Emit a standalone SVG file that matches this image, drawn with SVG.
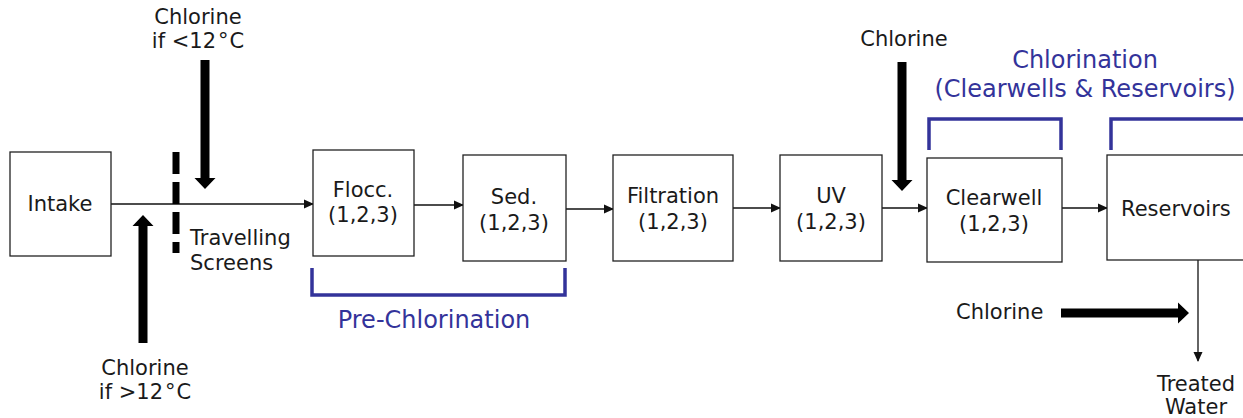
<svg xmlns="http://www.w3.org/2000/svg" width="1243" height="418" viewBox="0 0 1243 418">
<style>
.box{fill:#fff;stroke:#222;stroke-width:1.3}
.t{font-family:"DejaVu Sans",Verdana,sans-serif;font-size:21px;fill:#1a1a1a;text-anchor:middle}
.b{font-family:"DejaVu Sans",Verdana,sans-serif;font-size:24px;fill:#33339a;text-anchor:middle}
.ln{stroke:#111;stroke-width:1.3;fill:none}
.br{stroke:#33339a;stroke-width:3.5;fill:none}
.fat{fill:#000}
</style>
<defs>
<marker id="ah" markerWidth="10" markerHeight="10" refX="9" refY="5" orient="auto" markerUnits="userSpaceOnUse">
<path d="M0,0.5 L10,5 L0,9.5 Z" fill="#111"/>
</marker>
</defs>
<rect width="1243" height="418" fill="#fff"/>
<g id="connectors">
<line class="ln" x1="111" y1="204" x2="313" y2="204" marker-end="url(#ah)"/>
<line class="ln" x1="414" y1="205" x2="463" y2="205" marker-end="url(#ah)"/>
<line class="ln" x1="566" y1="209" x2="613" y2="209" marker-end="url(#ah)"/>
<line class="ln" x1="733" y1="208" x2="780" y2="208" marker-end="url(#ah)"/>
<line class="ln" x1="882" y1="208" x2="927" y2="208" marker-end="url(#ah)"/>
<line class="ln" x1="1062" y1="208" x2="1107" y2="208" marker-end="url(#ah)"/>
<line class="ln" x1="1198" y1="260" x2="1198" y2="361" marker-end="url(#ah)"/>
</g>
<g id="screens">
<line x1="176" y1="152" x2="176" y2="253" stroke="#000" stroke-width="7" stroke-dasharray="22,8"/>
<text class="t" x="190" y="245" style="text-anchor:start">Travelling</text>
<text class="t" x="190" y="270" style="text-anchor:start">Screens</text>
</g>
<g id="chlorine-top">
<text class="t" x="198" y="24">Chlorine</text>
<text class="t" x="198" y="48">if &lt;12<tspan dx="2">°</tspan><tspan dx="1">C</tspan></text>
<path class="fat" d="M200.5,60 h9 v118 h6 l-10.5,11 l-10.5,-11 h6 Z"/>
</g>
<g id="chlorine-bottom">
<path class="fat" d="M138.5,343 h9 v-117 h6 l-10.5,-11 l-10.5,11 h6 Z"/>
<text class="t" x="145" y="375">Chlorine</text>
<text class="t" x="145" y="399">if &gt;12<tspan dx="2">°</tspan><tspan dx="1">C</tspan></text>
</g>
<g id="intake">
<rect class="box" x="10" y="152" width="101" height="104"/>
<text class="t" x="60" y="211">Intake</text>
</g>
<g id="flocc">
<rect class="box" x="313" y="150" width="101" height="106"/>
<text class="t" x="363" y="197">Flocc.</text>
<text class="t" x="363" y="222">(1,2,3)</text>
</g>
<g id="sed">
<rect class="box" x="463" y="155" width="103" height="106"/>
<text class="t" x="514" y="204">Sed.</text>
<text class="t" x="514" y="230">(1,2,3)</text>
</g>
<g id="pre-chlorination">
<path class="br" d="M312,268 V295 H565 V268"/>
<text class="b" x="434" y="328">Pre-Chlorination</text>
</g>
<g id="filtration">
<rect class="box" x="613" y="155" width="120" height="106"/>
<text class="t" x="673" y="203">Filtration</text>
<text class="t" x="673" y="229">(1,2,3)</text>
</g>
<g id="uv">
<rect class="box" x="780" y="155" width="102" height="106"/>
<text class="t" x="831" y="203">UV</text>
<text class="t" x="831" y="229">(1,2,3)</text>
</g>
<g id="chlorine-uv">
<text class="t" x="904" y="46">Chlorine</text>
<path class="fat" d="M897.5,62 h9 v118 h6 l-10.5,11 l-10.5,-11 h6 Z"/>
</g>
<g id="clearwell">
<rect class="box" x="927" y="158" width="135" height="104"/>
<text class="t" x="994" y="205">Clearwell</text>
<text class="t" x="994" y="231">(1,2,3)</text>
</g>
<g id="reservoirs">
<rect class="box" x="1107" y="155" width="145" height="105"/>
<text class="t" x="1121" y="216" style="text-anchor:start">Reservoirs</text>
</g>
<g id="chlorination">
<text class="b" x="1085" y="68">Chlorination</text>
<text class="b" x="1085" y="97">(Clearwells &amp; Reservoirs)</text>
<path class="br" d="M929,150 V119 H1061 V150"/>
<path class="br" d="M1111,150 V119 H1250"/>
</g>
<g id="chlorine-res">
<text class="t" x="956" y="319" style="text-anchor:start">Chlorine</text>
<path class="fat" d="M1061,308.5 h117 v-6 l11,10.5 l-11,10.5 v-6 h-117 Z"/>
</g>
<g id="treated">
<text class="t" x="1196" y="391">Treated</text>
<text class="t" x="1196" y="414">Water</text>
</g>
</svg>
